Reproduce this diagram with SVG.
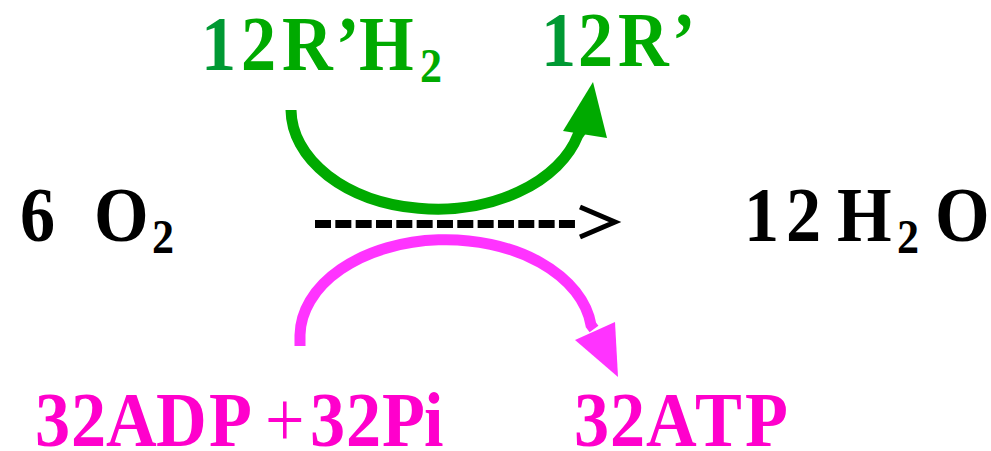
<svg xmlns="http://www.w3.org/2000/svg" width="991" height="451" viewBox="0 0 991 451">
<rect width="991" height="451" fill="#fff"/>
<text id="o2" fill="#000" font-family="Liberation Serif" font-weight="bold" font-size="78" transform="scale(0.9 1)"><tspan x="22.2 104.4" y="241">6O</tspan><tspan x="168.9" y="253" font-size="49">2</tspan></text>
<text id="h2o" fill="#000" font-family="Liberation Serif" font-weight="bold" font-size="78" transform="scale(0.9 1)"><tspan x="826.7 873.3 930" y="241">12H</tspan><tspan x="996.7" y="253" font-size="49">2</tspan><tspan x="1038.9" y="241">O</tspan></text>
<text id="rh2" fill="#00AA00" font-family="Liberation Serif" font-weight="bold" font-size="78" transform="scale(0.9 1)"><tspan fill="#009933" x="223.3" y="70">1</tspan><tspan x="267.8 313.3 373.3 398.9" y="70">2R’H</tspan><tspan x="466.7" y="82" font-size="49">2</tspan></text>
<text id="r" fill="#00AA00" font-family="Liberation Serif" font-weight="bold" font-size="78" transform="scale(0.9 1)"><tspan fill="#009933" x="601.1" y="66">1</tspan><tspan x="642.2 686.7 746.7" y="66">2R’</tspan></text>
<text id="adp" fill="#FF00CC" font-family="Liberation Serif" font-weight="bold" font-size="78" transform="scale(0.9 1)"><tspan x="38.9 78.9 117.8 173.3 232.2" y="446">32ADP</tspan><tspan x="294.4" y="446" font-weight="normal">+</tspan><tspan x="344.4 384.4 424.4 471.1" y="446">32Pi</tspan></text>
<text id="atp" fill="#FF00CC" font-family="Liberation Serif" font-weight="bold" font-size="78" transform="scale(0.9 1)" x="637.8 677.8 717.8 772.2 827.8" y="446">32ATP</text>
<g id="connectors">
<line x1="315" y1="224" x2="576" y2="224" stroke="#000" stroke-width="8" stroke-dasharray="16 4.33"/>
<polyline points="580,207 615,222 580,237" fill="none" stroke="#000" stroke-width="5"/>
<path d="M291 110 A146 100 0 0 0 578 135 L583 128" fill="none" stroke="#00AA00" stroke-width="11"/>
<polygon points="563,131 607,138 593,82" fill="#00AA00"/>
<path d="M300 346 L300 335 A146 96.5 0 0 1 591 325 L594 329" fill="none" stroke="#FF33FF" stroke-width="11"/>
<polygon points="575,340 615,322 618,377" fill="#FF33FF"/>
</g>
</svg>
